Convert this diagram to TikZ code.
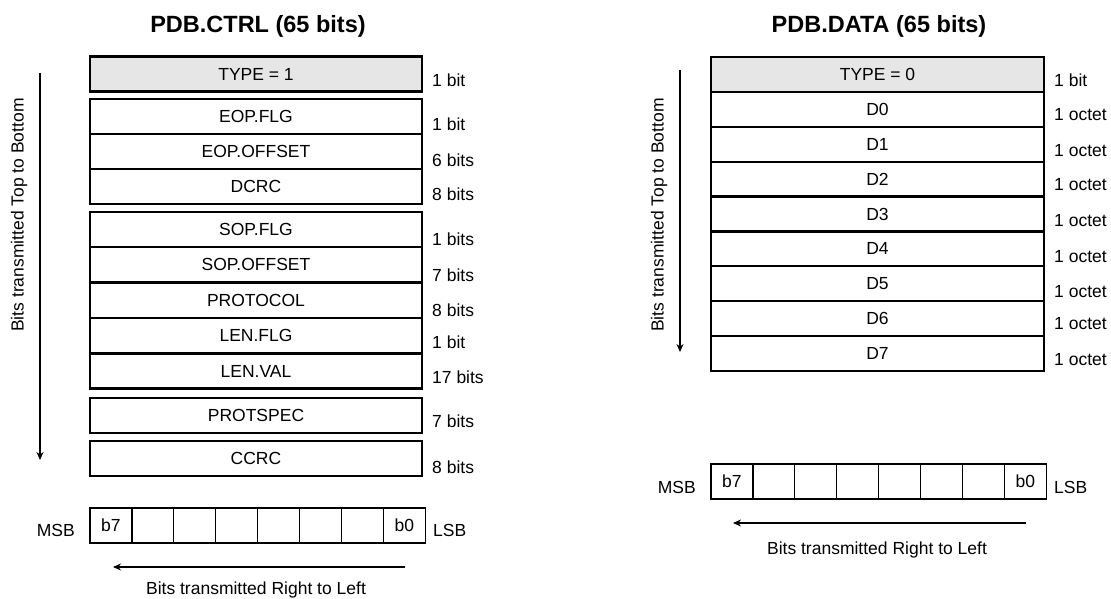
\documentclass[tikz,border=0pt]{standalone}
\usepackage{fontspec}
\setmainfont{Liberation Sans}
\usetikzlibrary{arrows.meta, positioning}
\definecolor{typegray}{HTML}{E6E6E6}
\newcommand{\fieldfont}{\fontsize{17.5}{20}\selectfont}
\newcommand{\titlefont}{\fontsize{23.5}{26}\selectfont\bfseries}

\begin{document}
\begin{tikzpicture}[
  x=1pt, y=-1pt,
  field/.style={draw, line width=2.2pt, minimum width=332pt, minimum height=35pt, inner sep=0pt, font=\fieldfont, fill=#1},
  field/.default=white,
  bitsize/.style={anchor=west, inner sep=0pt, font=\fieldfont},
  bitcell/.style={draw, line width=1.2pt, minimum width=41.9pt, minimum height=35pt, inner sep=0pt, font=\fieldfont},
  lbl/.style={inner sep=0pt, font=\fieldfont},
  arr/.style={-{Stealth[length=8pt, width=7pt]}, line width=1.6pt},
]
  \useasboundingbox (0,0) rectangle (1111,599);

  % PDB.CTRL
  \node[font=\titlefont, anchor=base] (ctrltitle) at (258,33) {PDB.CTRL (65 bits)};
  \node[field=typegray] (ctype) at (256,74) {TYPE = 1};
  \node[field] (eopflg) at (256,116.5) {EOP.FLG};
  \node[field] (eopoff) at (256,151.5) {EOP.OFFSET};
  \node[field] (dcrc) at (256,186.5) {DCRC};
  \node[field] (sopflg) at (256,229.5) {SOP.FLG};
  \node[field] (sopoff) at (256,264.8) {SOP.OFFSET};
  \node[field] (protocol) at (256,300.2) {PROTOCOL};
  \node[field] (lenflg) at (256,335.6) {LEN.FLG};
  \node[field] (lenval) at (256,371) {LEN.VAL};
  \node[field] (protspec) at (256,415.5) {PROTSPEC};
  \node[field] (ccrc) at (256,458.5) {CCRC};

  \foreach \n/\y/\t in {cs1/80/1 bit, cs2/124/1 bit, cs3/160/6 bits, cs4/194/8 bits,
      cs5/239/1 bits, cs6/275/7 bits, cs7/310/8 bits, cs8/342/1 bit,
      cs9/377/17 bits, cs10/421/7 bits, cs11/467/8 bits}
    \node[bitsize] (\n) at (432,\y) {\t};

  \coordinate (ctrltop) at (40,73);
  \coordinate (ctrlbot) at (40,460);
  \draw[arr] (ctrltop) -- (ctrlbot);
  \node[lbl, rotate=90] (ctrlvdir) at (19,215) {Bits transmitted Top to Bottom};

  \foreach \i/\t in {1/b7,2/,3/,4/,5/,6/,7/,8/b0}
    \node[bitcell] (cb\i) at ({90+41.9*(\i-0.5)},525.5) {\t};
  \node[lbl, anchor=east] (cmsb) at (75,530.5) {MSB};
  \node[lbl, anchor=west] (clsb) at (433,530.5) {LSB};

  \coordinate (ctrlright) at (405,567);
  \coordinate (ctrlleft) at (113,567);
  \draw[arr] (ctrlright) -- (ctrlleft);
  \node[lbl, anchor=base] (ctrlhdir) at (256,594) {Bits transmitted Right to Left};

  % PDB.DATA
  \node[font=\titlefont, anchor=base] (datatitle) at (879,33) {PDB.DATA (65 bits)};
  \node[field=typegray, minimum width=333pt] (dtype) at (877.5,74.5) {TYPE = 0};
  \foreach \i in {0,...,7}
    \node[field, minimum width=333pt] (d\i) at (877.5,{57+34.9*(\i+1.5)}) {D\i};

  \foreach \n/\y/\t in {ds0/80/1 bit, ds1/115/1 octet, ds2/151/1 octet, ds3/185/1 octet,
      ds4/221/1 octet, ds5/257/1 octet, ds6/292/1 octet, ds7/324/1 octet, ds8/360/1 octet}
    \node[bitsize] (\n) at (1054,\y) {\t};

  \coordinate (datatop) at (680,70);
  \coordinate (databot) at (680,352);
  \draw[arr] (datatop) -- (databot);
  \node[lbl, rotate=90] (datavdir) at (659,215) {Bits transmitted Top to Bottom};

  \foreach \i/\t in {1/b7,2/,3/,4/,5/,6/,7/,8/b0}
    \node[bitcell] (db\i) at ({711+41.9*(\i-0.5)},481.5) {\t};
  \node[lbl, anchor=east] (dmsb) at (696,487) {MSB};
  \node[lbl, anchor=west] (dlsb) at (1054,487) {LSB};

  \coordinate (dataright) at (1026,523);
  \coordinate (dataleft) at (733,523);
  \draw[arr] (dataright) -- (dataleft);
  \node[lbl, anchor=base] (datahdir) at (877,554) {Bits transmitted Right to Left};
\end{tikzpicture}
\end{document}
